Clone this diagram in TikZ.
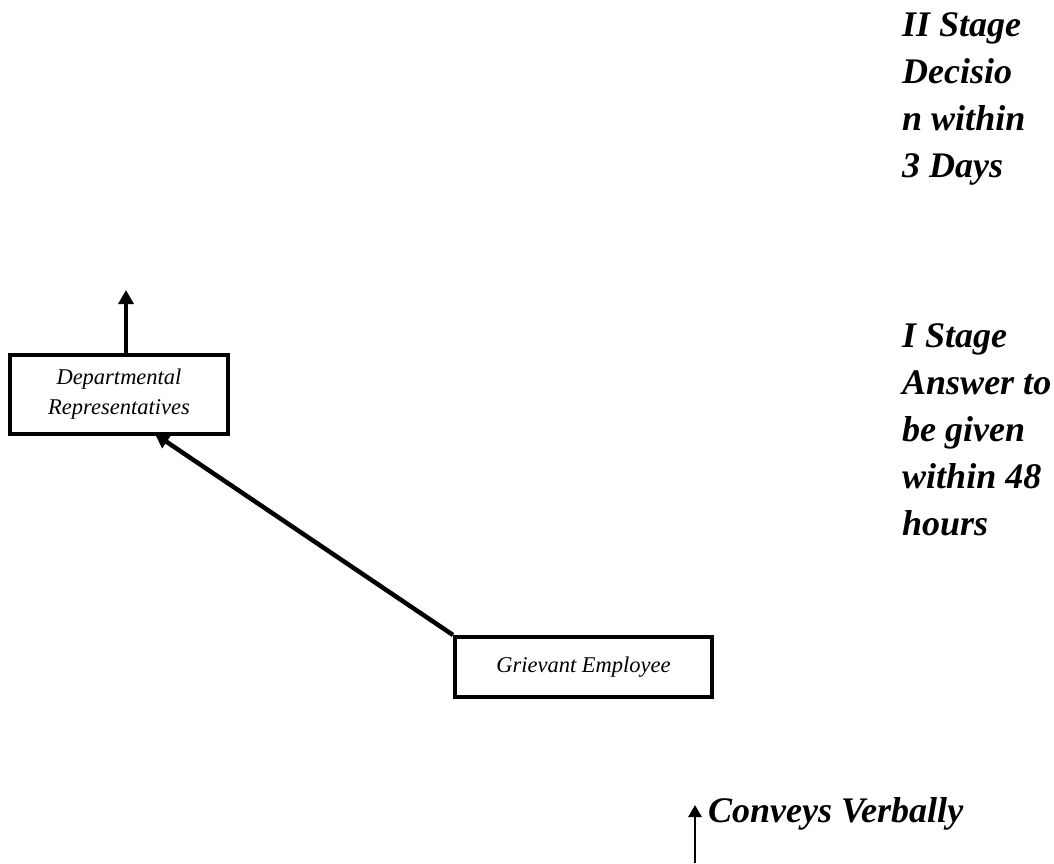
\documentclass[tikz,border=0pt]{standalone}
\usepackage{fontspec}
\setmainfont{Liberation Serif}
\usetikzlibrary{arrows.meta}
\tikzset{
  card/.style={draw, line width=4pt, inner sep=0pt, align=center,
    font=\fontsize{22.5}{30}\selectfont\itshape},
  arr/.style={line width=4.5pt, -{Triangle[width=15pt,length=14pt]}},
  thinarr/.style={line width=2.8pt, -{Triangle[width=13pt,length=12pt]}},
  note/.style={inner sep=0pt, align=left, anchor=north west,
    font=\fontsize{36}{47}\selectfont\bfseries\itshape}
}
\begin{document}
\begin{tikzpicture}[x=1pt,y=-1pt]
\useasboundingbox (0,0) rectangle (1054,863);

% process boxes
\node[card, minimum width=218pt, minimum height=79pt] (dept) at (119,394.5)
  {Departmental\\Representatives};
\node[card, minimum width=257pt, minimum height=60pt] (griev) at (583.5,667)
  {Grievant Employee};

% connectors
\draw[arr] ([xshift=7pt]dept.north) -- ++(0,-63);
\draw[arr] (griev.north west) -- ([xshift=36pt, yshift=2pt]dept.south);

% verbal channel
\node[inner sep=0pt, anchor=base west,
  font=\fontsize{36}{40}\selectfont\bfseries\itshape] (conv) at (708,822)
  {Conveys Verbally};
\coordinate (cvfoot) at (695,863);
\coordinate (cvtip) at (695,805);
\draw[thinarr] (cvfoot) -- (cvtip);

% stage notes
\node[note] (stage2) at (902,12) {II Stage\\Decisio\\n within\\3 Days};
\node[note] (stage1) at (902,323) {I Stage\\Answer to\\be given\\within 48\\hours};
\end{tikzpicture}
\end{document}
